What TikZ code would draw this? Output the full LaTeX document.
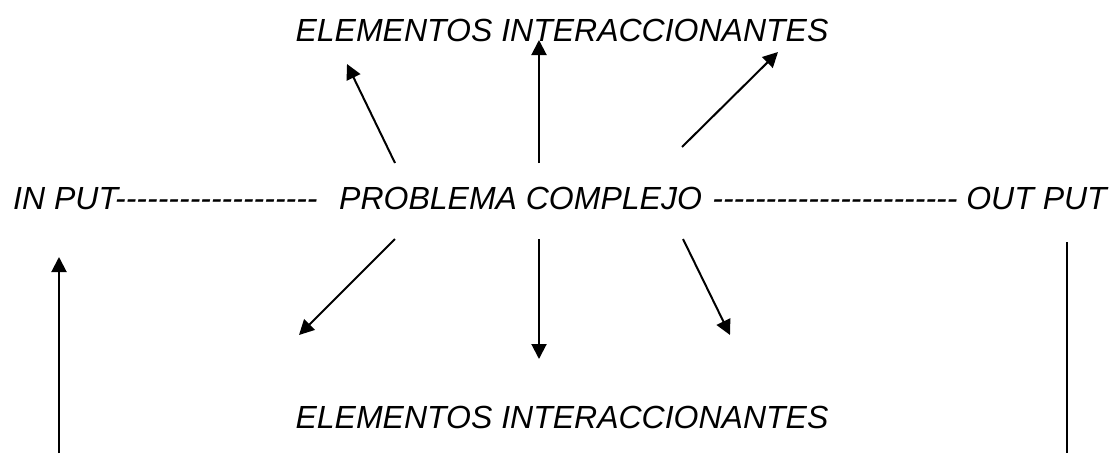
\documentclass[tikz,border=0pt]{standalone}
\usepackage{fontspec}
\newfontfamily\arialfont{Liberation Sans}
\usetikzlibrary{arrows.meta}
\newcommand\hyphrun[1]{\foreach \k in {1,...,#1}{-\kern0pt}}
\begin{document}
\begin{tikzpicture}[x=1pt,y=-1pt,
  lbl/.style={font=\arialfont\fontsize{32}{38}\selectfont\itshape, inner sep=0pt},
  arr/.style={line width=2pt,-{Triangle[length=15pt,width=15pt]}},
  ln/.style={line width=2pt}]
\useasboundingbox (0,0) rectangle (1119,453);
\node[lbl, anchor=base] (top) at (562,41) {ELEMENTOS INTERACCIONANTES};
\node[lbl, anchor=base west] (inp) at (13,209) {IN PUT\hyphrun{19}};
\node[lbl, anchor=base west] (prob) at (339,209) {PROBLEMA COMPLEJO};
\node[lbl, anchor=base east] (outp) at (1107,209) {\hyphrun{23} OUT PUT};
\node[lbl, anchor=base] (bot) at (562,428) {ELEMENTOS INTERACCIONANTES};
% top arrows
\coordinate (t1s) at (395,163); \coordinate (t1e) at (347,64);
\coordinate (t2s) at (539,163); \coordinate (t2e) at (539,40);
\coordinate (t3s) at (682,147); \coordinate (t3e) at (778,52);
\draw[arr] (t1s) -- (t1e);
\draw[arr] (t2s) -- (t2e);
\draw[arr] (t3s) -- (t3e);
% bottom arrows
\coordinate (b1s) at (395,239); \coordinate (b1e) at (299,335);
\coordinate (b2s) at (539,239); \coordinate (b2e) at (539,359);
\coordinate (b3s) at (683,239); \coordinate (b3e) at (730,335);
\draw[arr] (b1s) -- (b1e);
\draw[arr] (b2s) -- (b2e);
\draw[arr] (b3s) -- (b3e);
% side lines
\coordinate (ls) at (59,453); \coordinate (le) at (59,257);
\draw[arr] (ls) -- (le);
\coordinate (rs) at (1067,242); \coordinate (re) at (1067,453);
\draw[ln] (rs) -- (re);
\end{tikzpicture}
\end{document}
